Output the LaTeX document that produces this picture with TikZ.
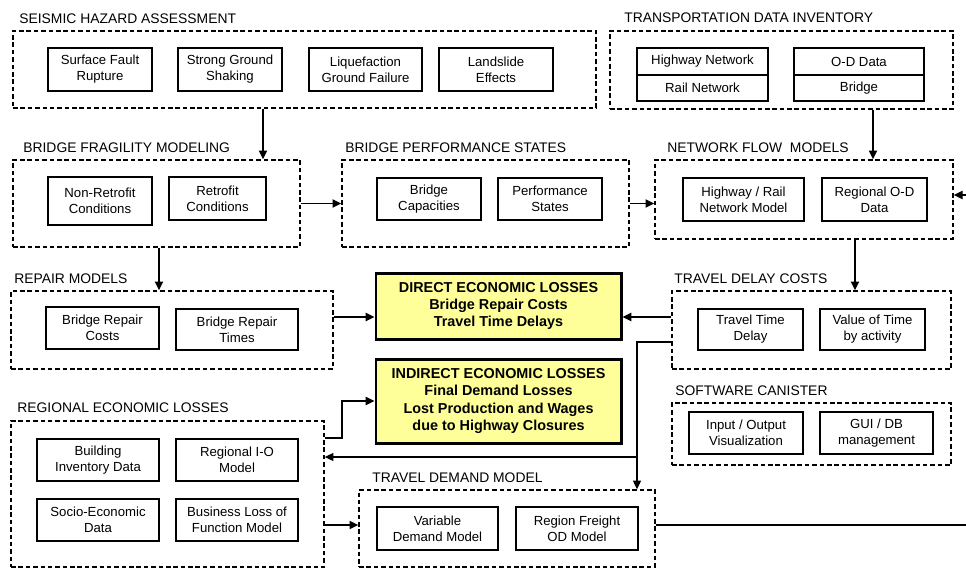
\documentclass[tikz,border=0pt]{standalone}
\usepackage{fontspec}
\setmainfont{Liberation Sans}
\usetikzlibrary{arrows.meta,fit}
\definecolor{lossyellow}{RGB}{255,255,153}
\begin{document}
\begin{tikzpicture}[x=0.02cm,y=-0.02cm,
    grp/.style={draw,line width=0.8pt,dash pattern=on 2.6pt off 1.6pt,inner sep=0pt},
    box/.style={draw,line width=0.7pt,inner sep=0pt},
    boxtext/.style={align=center,inner sep=0pt,font=\fontsize{7.5}{9.2}\selectfont},
    loss/.style={draw,line width=1.7pt,fill=lossyellow,inner sep=0pt},
    losstext/.style={align=center,inner sep=0pt,font=\fontsize{8.2}{9.8}\selectfont\bfseries},
    title/.style={anchor=base west,inner sep=0pt,font=\fontsize{7.9}{9}\selectfont},
    arr/.style={line width=0.95pt,-{Triangle[length=5pt,width=4.6pt]}},
    thin/.style={line width=0.65pt,-{Triangle[length=5pt,width=4.6pt]}}]
  % picture size
  \useasboundingbox (0,0) rectangle (966,569);

  % seismic hazard assessment
  \node[title] (seisT) at (19,23) {SEISMIC HAZARD ASSESSMENT};
  \node[grp,fit={(13,31) (596,108)}] (seis) {};
  \node[box,fit={(48,48) (152,91)},label={[boxtext]center:Surface Fault\\Rupture}] (sfr) {};
  \node[box,fit={(178,48) (282,91)},label={[boxtext]center:Strong Ground\\Shaking}] (sgs) {};
  \node[box,fit={(309,48) (422,91)},label={[boxtext]center:Liquefaction\\Ground Failure}] (lgf) {};
  \node[box,fit={(439,48) (553,91)},label={[boxtext]center:Landslide\\Effects}] (lse) {};

  % transportation data inventory
  \node[title] (tdiT) at (624,22) {TRANSPORTATION DATA INVENTORY};
  \node[grp,fit={(610,31) (953,109)}] (tdi) {};
  \node[box,fit={(637,48) (768,75)},label={[boxtext]center:Highway Network}] (hwn) {};
  \node[box,fit={(637,75) (768,101)},label={[boxtext]center:Rail Network}] (rln) {};
  \node[box,fit={(794,48) (924,75)},label={[boxtext]center:O-D Data}] (odd) {};
  \node[box,fit={(794,75) (924,101)},label={[boxtext]center:Bridge}] (brg) {};

  % bridge fragility modeling
  \node[title] (fragT) at (23,152) {BRIDGE FRAGILITY MODELING};
  \node[grp,fit={(13,160) (300,247)}] (frag) {};
  \node[box,fit={(48,177) (152,225)},label={[boxtext]center:Non-Retrofit\\Conditions}] (nrc) {};
  \node[box,fit={(169,177) (266,220)},label={[boxtext]center:Retrofit\\Conditions}] (rfc) {};

  % bridge performance states
  \node[title] (perfT) at (345,152) {BRIDGE PERFORMANCE STATES};
  \node[grp,fit={(342,160) (629,247)}] (perf) {};
  \node[box,fit={(377,178) (481,220)},label={[boxtext]center:Bridge\\Capacities}] (bcp) {};
  \node[box,fit={(498,178) (602,220)},label={[boxtext]center:Performance\\States}] (pst) {};

  % network flow models
  \node[title] (nfmT) at (667,152) {NETWORK FLOW\ \ MODELS};
  \node[grp,fit={(655,160) (953,239)}] (nfm) {};
  \node[box,fit={(683,178) (804,221)},label={[boxtext]center:Highway / Rail\\Network Model}] (hrn) {};
  \node[box,fit={(822,178) (927,221)},label={[boxtext]center:Regional O-D\\Data}] (rod) {};

  % repair models
  \node[title] (repT) at (14,283) {REPAIR MODELS};
  \node[grp,fit={(11,291) (333,369)}] (rep) {};
  \node[box,fit={(46,307) (159,349)},label={[boxtext]center:Bridge Repair\\Costs}] (brc) {};
  \node[box,fit={(176,309) (298,350)},label={[boxtext]center:Bridge Repair\\Times}] (brt) {};

  % travel delay costs
  \node[title] (tdcT) at (674,283) {TRAVEL DELAY COSTS};
  \node[grp,fit={(672,291) (951,369)}] (tdc) {};
  \node[box,fit={(698,309) (803,350)},label={[boxtext]center:Travel Time\\Delay}] (ttd) {};
  \node[box,fit={(820,309) (925,350)},label={[boxtext]center:Value of Time\\by activity}] (vot) {};

  % software canister
  \node[title] (swT) at (675,395) {SOFTWARE CANISTER};
  \node[grp,fit={(672,403) (951,465)}] (sw) {};
  \node[box,fit={(689,412) (803,454)},label={[boxtext]center:Input / Output\\Visualization}] (iov) {};
  \node[box,fit={(820,412) (933,454)},label={[boxtext]center:GUI / DB\\management}] (gdb) {};

  % regional economic losses
  \node[title] (relT) at (17,412) {REGIONAL ECONOMIC LOSSES};
  \node[grp,fit={(11,421) (324,567)}] (rel) {};
  \node[box,fit={(37,439) (159,481)},label={[boxtext]center:Building\\Inventory Data}] (bid) {};
  \node[box,fit={(176,439) (298,481)},label={[boxtext]center:Regional I-O\\Model}] (rio) {};
  \node[box,fit={(37,499) (159,541)},label={[boxtext]center:Socio-Economic\\Data}] (sed) {};
  \node[box,fit={(176,499) (298,541)},label={[boxtext]center:Business Loss of\\Function Model}] (blf) {};

  % travel demand model
  \node[title] (tdmT) at (372,482) {TRAVEL DEMAND MODEL};
  \node[grp,fit={(359,490) (655,567)}] (tdm) {};
  \node[box,fit={(377,507) (498,550)},label={[boxtext]center:Variable\\Demand Model}] (vdm) {};
  \node[box,fit={(516,507) (638,550)},label={[boxtext]center:Region Freight\\OD Model}] (rfo) {};

  % economic losses
  \node[loss,fit={(376,273) (621,339)},
    label={[losstext]center:DIRECT ECONOMIC LOSSES\\Bridge Repair Costs\\Travel Time Delays}] (del) {};
  \node[loss,fit={(376,359) (621,443)},
    label={[losstext]center:INDIRECT ECONOMIC LOSSES\\Final Demand Losses\\Lost Production and Wages\\due to Highway Closures}] (iel) {};

  % connector positions
  \coordinate (c1) at (263,0);
  \coordinate (c2) at (873,0);
  \coordinate (c3) at (159,0);
  \coordinate (c4) at (855,0);
  \coordinate (c5) at (637,0);
  \coordinate (c6) at (342,0);
  \coordinate (rin) at (966,195);
  \coordinate (rout) at (966,525);
  \coordinate (y1) at (0,317);
  \coordinate (y2) at (0,342);
  \coordinate (y3) at (0,457);
  \coordinate (y4) at (0,438);
  \coordinate (y5) at (0,525);

  % connectors
  \draw[arr] (c1 |- seis.south) -- (c1 |- frag.north);
  \draw[arr] (frag.east) -- (perf.west);
  \draw[arr] (perf.east) -- (perf.east -| nfm.west);
  \draw[arr] (c2 |- tdi.south) -- (c2 |- nfm.north);
  \draw[arr] (rin) -- (rin -| nfm.east);
  \draw[arr] (c3 |- frag.south) -- (c3 |- rep.north);
  \draw[arr] (c4 |- nfm.south) -- (c4 |- tdc.north);
  \draw[arr] (y1 -| rep.east) -- (y1 -| del.west);
  \draw[arr] (y1 -| tdc.west) -- (y1 -| del.east);
  \draw[thin] (y2 -| tdc.west) -- (y2 -| c5) -- (c5 |- tdm.north);
  \draw[thin] (y3 -| c5) -- (y3 -| rel.east);
  \draw[arr] (y4 -| rel.east) -- (y4 -| c6) |- (iel.west);
  \draw[arr] (y5 -| rel.east) -- (y5 -| tdm.west);
  \draw[line width=0.65pt] (y5 -| tdm.east) -- (rout);
\end{tikzpicture}
\end{document}
